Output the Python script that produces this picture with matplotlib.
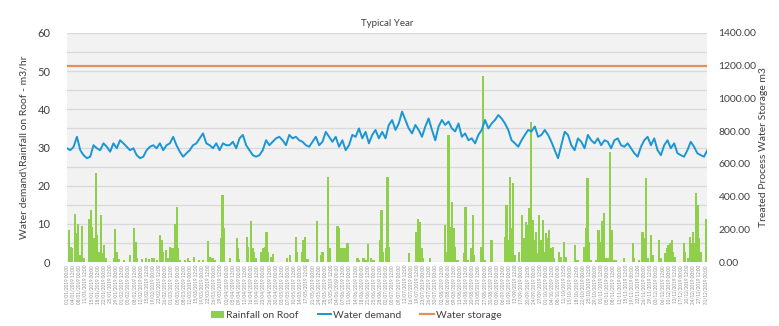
import numpy as np
import pandas as pd
import matplotlib
matplotlib.use("Agg")
import matplotlib.pyplot as plt
from matplotlib.ticker import MultipleLocator, FormatStrFormatter

plt.rcParams["font.family"] = ["Lato", "DejaVu Sans"]

# -----------------------------
# Data (typical year, day of year on x)
# -----------------------------
# water demand m3/hr, evenly spaced over the year
water_demand = [
    29.8, 29.3, 30.2, 32.8, 29.3, 28.0, 27.2, 27.6, 30.6, 29.8, 29.3, 31.1, 30.2, 28.9, 31.1, 29.8,
    31.9, 31.1, 30.2, 29.3, 29.8, 28.0, 27.2, 27.6, 29.3, 30.2, 30.6, 29.8, 31.1, 29.3, 30.6, 31.1,
    32.8, 30.6, 28.9, 27.6, 28.5, 29.3, 30.6, 31.1, 32.4, 33.7, 31.1, 30.6, 29.8, 31.1, 29.3, 31.1,
    30.6,
    30.6, 31.5, 29.8, 32.4, 33.3, 30.6, 29.3, 28.0, 27.6, 28.0, 29.3, 31.9, 30.6, 31.5, 32.4, 32.8,
    31.9, 30.6, 33.3, 32.4, 32.8, 31.9, 31.5, 30.6, 30.2, 31.5, 32.8, 30.6, 31.5, 34.1, 32.8, 31.5,
    32.8, 30.2, 31.9, 29.3, 30.6, 33.3, 32.8, 35.0, 32.4, 34.1, 31.1, 33.3, 34.6, 32.4, 34.1, 32.4,
    35.9, 37.2, 34.6, 36.3, 39.4, 37.2, 35.0, 33.7, 35.9, 34.6, 32.8, 35.5, 37.6, 34.6, 31.9, 35.5,
    37.2, 35.9, 36.8, 35.0, 34.2, 36.3, 32.8, 33.7, 31.9, 32.4, 31.1, 33.3, 34.6, 37.2, 35.0, 36.3,
    37.2, 38.5, 37.6, 36.3, 34.6, 31.9, 31.1, 30.2, 31.9, 33.3, 34.6, 34.2, 35.5, 32.8, 33.3, 34.6,
    33.3, 31.5, 29.3, 27.2, 30.6, 34.1, 33.3, 30.6, 29.3, 32.4, 31.5, 29.8, 33.3, 31.9, 31.1, 32.4,
    30.6, 31.9, 31.5, 29.8, 31.9, 32.4, 30.6, 30.2, 31.1, 29.8, 28.5, 27.6, 30.2, 31.9, 32.8, 30.6,
    32.4, 29.3, 28.0, 30.6, 31.9, 29.8, 31.1, 28.5, 28.0, 27.6, 29.3, 31.5, 30.2, 28.5, 28.0, 27.6,
    29.3,
]

# treated process water storage m3 (right axis)
water_storage = [1200.0, 1200.0]
storage_days = [0, 365]

# rainfall on roof m3/hr: day of year and value
rain_day = [
    1.1, 2.1, 3.0, 4.4, 5.3, 6.3, 7.2, 8.7, 9.7, 12.5, 13.5, 14.4, 15.4, 16.4, 17.3, 18.2,
    19.2, 20.1, 21.1, 22.1, 26.8, 27.4, 28.3, 29.7, 32.5, 35.9, 38.2, 39.2, 40.1, 42.9, 44.9,
    46.8, 48.6, 49.6, 51.5, 53.0, 54.0, 54.9, 56.3, 57.6, 58.7, 59.5, 60.6, 61.6, 62.6, 63.5,
    64.4, 67.1, 69.0, 70.1, 72.4, 75.3, 77.7, 80.6, 81.6, 82.9, 84.2, 87.7, 88.6, 89.5,
    93.0, 96.8, 97.5, 98.1, 102.5, 103.2, 104.8, 105.7, 106.6, 107.6, 110.8, 111.8, 112.7,
    113.7, 114.6, 116.2, 117.5, 125.3, 127.2, 130.4, 131.3, 133.8, 134.8, 135.7, 137.1,
    142.4, 144.7, 145.6, 148.9, 150.0, 154.2, 155.1, 156.1, 157.0, 158.0, 158.9, 159.9,
    165.6, 166.5, 169.0, 170.3, 171.7, 173.2, 174.7, 178.3, 179.3, 180.2,
    181.9, 182.7, 183.5, 195.0, 199.2, 200.2, 201.1, 202.1, 203.0, 206.8, 215.4, 216.3,
    217.5, 218.4, 219.4, 220.3, 221.3, 222.6, 226.4, 227.2, 228.3, 230.2, 231.2, 232.1,
    235.9, 237.2, 238.2, 242.0, 249.6, 250.5, 251.5, 252.5, 253.4, 254.4, 255.3, 257.8,
    259.3, 260.2, 261.6, 262.5, 263.5, 264.4, 265.4, 266.3, 267.3, 268.2, 269.2, 270.2,
    271.1, 272.0, 273.0,
    273.9, 274.9, 275.9, 276.8, 277.7, 280.6, 281.6, 283.4, 284.4, 289.5, 291.0, 294.8,
    295.8, 296.7, 297.7, 298.7, 301.5, 303.0, 304.0, 304.9, 305.9, 306.8, 308.1, 309.7,
    310.6, 311.6, 312.9, 317.7, 322.4, 323.4, 326.2, 328.1, 329.1, 330.0, 331.0, 332.9,
    333.8, 337.6, 338.6, 340.9, 341.8, 342.8, 343.7, 344.7, 345.6, 346.6, 351.5, 352.3,
    353.8, 355.1, 356.0, 357.0, 358.0, 358.5, 359.5, 360.4, 361.4, 364.4,
]
rain_value = [
    8.4, 4.0, 3.6, 12.5, 7.5, 10.1, 1.8, 9.4, 1.0, 11.4, 13.6, 9.3, 6.2, 23.2, 7.1, 2.7,
    12.3, 2.3, 4.5, 1.0, 1.0, 8.6, 2.7, 0.8, 0.5, 1.8, 8.8, 5.3, 1.0, 0.8, 1.0,
    0.8, 1.0, 1.0, 0.5, 7.1, 5.8, 2.7, 3.1, 1.0, 4.0, 3.6, 3.8, 10.1, 14.5, 3.6,
    0.5, 0.5, 1.0, 0.3, 1.4, 0.5, 0.5, 5.6, 1.4, 1.0, 0.5, 6.2, 17.6, 8.8,
    1.0, 6.4, 3.6, 0.8, 6.6, 4.0, 10.7, 3.6, 2.7, 1.0, 2.7, 3.6, 4.0,
    7.9, 2.7, 1.4, 2.0, 1.1, 1.8, 6.6, 2.7, 2.7, 5.8, 6.6, 0.7,
    10.7, 1.8, 2.7, 22.2, 3.6, 9.4, 8.8, 3.6, 3.6, 3.8, 3.8, 4.9,
    1.1, 0.5, 1.1, 0.5, 4.7, 1.0, 0.5, 5.9, 13.6, 2.7,
    3.6, 22.4, 4.0, 2.3, 7.9, 11.4, 10.6, 3.6, 1.0, 1.0, 9.7, 2.7,
    33.3, 9.3, 15.8, 8.8, 4.0, 0.5, 2.3, 14.5, 0.5, 3.6, 12.3, 1.8,
    4.0, 48.6, 0.5, 5.9, 6.6, 14.9, 5.8, 22.4, 8.8, 20.6, 1.8, 2.7,
    12.3, 6.3, 10.6, 9.7, 14.1, 36.8, 11.0, 5.8, 7.9, 2.3, 12.3, 5.8,
    11.0, 2.7, 7.5,
    6.2, 8.4, 3.6, 4.0, 1.0, 2.7, 1.4, 5.2, 1.4, 4.5, 0.5, 4.0,
    8.8, 21.9, 5.3, 0.5, 0.5, 8.4, 5.3, 10.7, 12.8, 1.0, 1.0, 28.9,
    8.4, 0.5, 0.5, 1.0, 4.9, 1.0, 0.5, 7.8, 6.2, 22.1, 1.0, 7.1,
    1.8, 5.8, 1.0, 2.3, 3.6, 4.5, 4.9, 5.8, 2.7, 1.4, 4.9, 2.7,
    1.0, 6.6, 4.9, 7.9, 4.9, 18.0, 14.9, 6.2, 2.7, 11.4,
]

# date labels along the x axis, one every 84 hours
tick_dates = pd.date_range("2019-01-01 00:00", "2019-12-31 23:00", freq="84h")
tick_labels = [d.strftime("%d/%m/%Y %H:%M") for d in tick_dates]

# -----------------------------
# Plot
# -----------------------------
demand_days = np.linspace(0, 365, len(water_demand))
tick_pos = (tick_dates - tick_dates[0]).total_seconds() / 86400.0

fig = plt.figure(figsize=(7.79, 3.26), dpi=100)
ax = fig.add_axes([0.086, 0.196, 0.822, 0.703])
ax2 = ax.twinx()

ax.set_facecolor("#f2f2f2")
rain = ax.bar(rain_day, rain_value, width=1.25, color="#8fcf4c", lw=0, zorder=2)
demand, = ax.plot(demand_days, water_demand, color="#1b96d4", lw=1.4, zorder=3)
storage, = ax2.plot(storage_days, water_storage, color="#e0905c", lw=1.6)

ax.set_xlim(0, 365)
ax.set_ylim(0, 60)
ax2.set_ylim(0, 1400)
ax.yaxis.set_major_locator(MultipleLocator(10))
ax.yaxis.set_minor_locator(MultipleLocator(5))
ax2.yaxis.set_major_locator(MultipleLocator(200))
ax2.yaxis.set_major_formatter(FormatStrFormatter("%.2f"))
ax.grid(True, which="both", axis="y", color="#d9d9d9", lw=0.9, zorder=0)
ax.set_axisbelow(True)

ax.set_xticks(tick_pos)
ax.set_xticklabels(tick_labels, rotation=90, fontsize=3.3, color="#8c8c8c")
ax.tick_params(axis="x", length=0, pad=2)
ax.tick_params(axis="y", which="both", length=0, labelsize=8, colors="#404040", pad=12)
ax2.tick_params(axis="y", length=0, labelsize=7.5, colors="#404040", pad=8)

for spine in list(ax.spines.values()) + list(ax2.spines.values()):
    spine.set_visible(False)

ax.set_ylabel("Water demand\\Rainfall on Roof - m3/hr", fontsize=7.5, color="#404040", labelpad=6)
ax2.set_ylabel("Treated Process Water Storage m3", fontsize=7.5, color="#404040", labelpad=2)
ax.set_title("Typical Year", fontsize=7, color="#404040", pad=5)

fig.legend([rain, demand, storage], ["Rainfall on Roof", "Water demand", "Water storage"],
           loc="lower center", bbox_to_anchor=(0.457, -0.01), ncol=3,
           frameon=False, fontsize=7.5, handlelength=1.3, handletextpad=0.2,
           columnspacing=1.8, labelcolor="#404040")

plt.savefig("out.png", dpi=100)
